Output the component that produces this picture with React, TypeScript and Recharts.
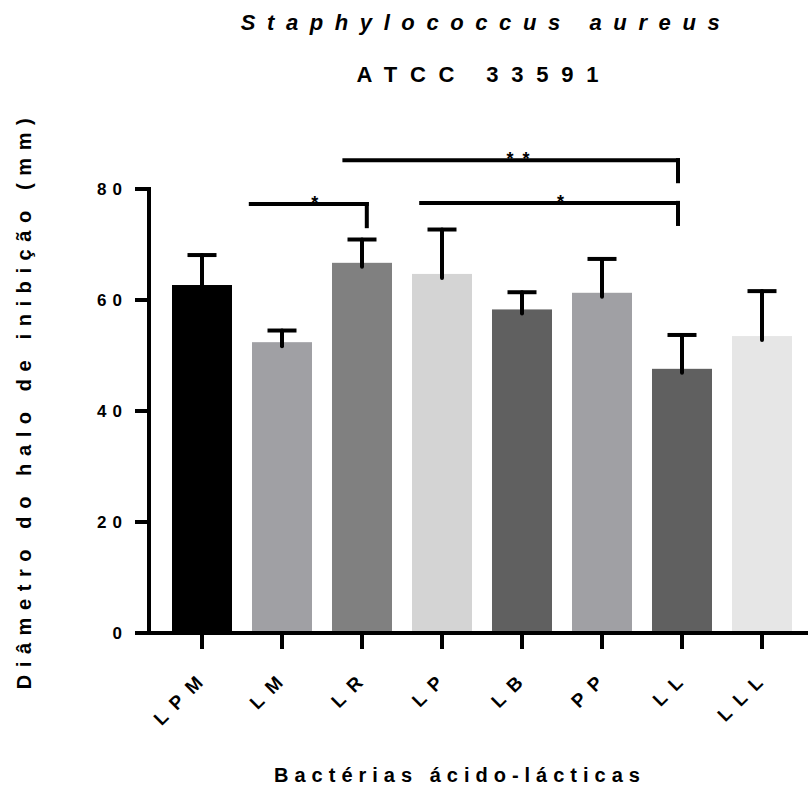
import React from 'react';
import { BarChart, Bar, XAxis, YAxis, Cell, ReferenceLine, ReferenceDot } from 'recharts';

const categories = ['LPM', 'LM', 'LR', 'LP', 'LB', 'PP', 'LL', 'LLL'];
const means = [62.7, 52.4, 66.7, 64.7, 58.3, 61.3, 47.6, 53.5];
const errors = [5.4, 2.1, 4.2, 8.0, 3.1, 6.1, 6.1, 8.1];
const barColors = ['#000000', '#a0a0a4', '#808080', '#d4d4d4', '#606060', '#a0a0a4', '#606060', '#e6e6e6'];
const yTicks = [0, 20, 40, 60, 80];

// brackets on the category index scale (0 = LPM ... 7 = LLL)
const bracketStart = [0.61, 2.74, 1.78];
const bracketEnd = [2.06, 5.95, 5.95];
const bracketLevel = [77.3, 77.5, 85.2];
const bracketDrop = [73.3, 73.7, 81.4];
const starX = [1.41, 4.48, 3.85, 4.05];
const starY = [77.3, 77.5, 85.2, 85.2];

const data = categories.map((name, i) => ({ name, pos: i, mean: means[i], err: errors[i] }));

const FONT = '"Liberation Sans", Arial, sans-serif';

const BarWithError = (props: any) => {
  const { x, y, width, height, payload, index } = props;
  if (!payload || !height) return null;
  const perUnit = height / payload.mean;
  const cx = x + width / 2;
  const top = y - payload.err * perUnit;
  return (
    <g>
      <rect x={x} y={y} width={width} height={height} fill={barColors[index]} />
      <line x1={cx} x2={cx} y1={y + 4} y2={top} stroke="#000" strokeWidth={4} strokeLinecap="round" />
      <line x1={cx - 14.5} x2={cx + 14.5} y1={top} y2={top} stroke="#000" strokeWidth={4} />
    </g>
  );
};

const XTick = (props: any) => {
  const { x, y, payload } = props;
  return (
    <g transform={`translate(${x + 2},${y + 33}) rotate(-45)`}>
      <text x={10} y={0} textAnchor="end" fontFamily={FONT} fontWeight="bold" fontSize={19} letterSpacing={10} fill="#000">
        {payload.value}
      </text>
    </g>
  );
};

const YTick = (props: any) => {
  const { x, y, payload } = props;
  return (
    <text x={x - 5} y={y + 6} textAnchor="end" fontFamily={FONT} fontWeight="bold" fontSize={17} letterSpacing={6} fill="#000">
      {payload.value}
    </text>
  );
};

const Star = (props: any) => (
  <text x={props.cx} y={props.cy + 5} textAnchor="middle" fontFamily={FONT} fontWeight="bold" fontSize={18} fill="#000">
    *
  </text>
);

export default function App() {
  return (
    <div style={{ position: 'absolute', left: 0, top: 0, width: 808, height: 790, background: '#fff' }}>
      <BarChart
        width={808}
        height={790}
        data={data}
        margin={{ top: 189, right: 0, bottom: 97, left: 49 }}
      >
        <XAxis
          dataKey="name"
          height={60}
          padding={{ left: 13, right: 6 }}
          axisLine={{ stroke: '#000', strokeWidth: 4, strokeLinecap: 'square' }}
          tickLine={{ stroke: '#000', strokeWidth: 4 }}
          tickSize={16}
          tick={<XTick />}
          interval={0}
        />
        {/* index axis for the significance brackets: bar centres sit at 0..7 */}
        <XAxis
          xAxisId="idx"
          dataKey="pos"
          type="number"
          domain={['dataMin', 'dataMax']}
          padding={{ left: 53, right: 46 }}
          hide
        />
        <YAxis
          width={100}
          domain={[0, 80]}
          ticks={yTicks}
          axisLine={{ stroke: '#000', strokeWidth: 4, strokeLinecap: 'square' }}
          tickLine={{ stroke: '#000', strokeWidth: 4 }}
          tickSize={14}
          tick={<YTick />}
        />
        <Bar dataKey="mean" barSize={60} isAnimationActive={false} shape={<BarWithError />}>
          {data.map((d, i) => (
            <Cell key={d.name} fill={barColors[i]} />
          ))}
        </Bar>
        {bracketStart.map((s, i) => (
          <ReferenceLine
            key={`h${i}`}
            xAxisId="idx"
            segment={[{ x: s, y: bracketLevel[i] }, { x: bracketEnd[i], y: bracketLevel[i] }]}
            stroke="#000"
            strokeWidth={4}
            strokeLinecap="square"
            ifOverflow="visible"
          />
        ))}
        {bracketEnd.map((e, i) => (
          <ReferenceLine
            key={`v${i}`}
            xAxisId="idx"
            segment={[{ x: e, y: bracketLevel[i] }, { x: e, y: bracketDrop[i] }]}
            stroke="#000"
            strokeWidth={4}
            strokeLinecap="square"
            ifOverflow="visible"
          />
        ))}
        {starX.map((sx, i) => (
          <ReferenceDot key={`s${i}`} xAxisId="idx" x={sx} y={starY[i]} ifOverflow="visible" shape={<Star />} />
        ))}
      </BarChart>
      <svg width={808} height={790} style={{ position: 'absolute', left: 0, top: 0, pointerEvents: 'none' }}>
        <text x={486} y={30} textAnchor="middle" fontFamily={FONT} fontWeight="bold" fontStyle="italic" fontSize={22} letterSpacing={11.6} fill="#000">
          Staphylococcus aureus
        </text>
        <text x={484} y={82} textAnchor="middle" fontFamily={FONT} fontWeight="bold" fontSize={22} letterSpacing={12.8} fill="#000">
          ATCC 33591
        </text>
        <text transform="translate(31,404) rotate(-90)" x={4} textAnchor="middle" fontFamily={FONT} fontWeight="bold" fontSize={20} letterSpacing={7.6} fill="#000">
          Diâmetro do halo de inibição (mm)
        </text>
        <text x={460} y={782} textAnchor="middle" fontFamily={FONT} fontWeight="bold" fontSize={20} letterSpacing={6} fill="#000">
          Bactérias ácido-lácticas
        </text>
      </svg>
    </div>
  );
}
